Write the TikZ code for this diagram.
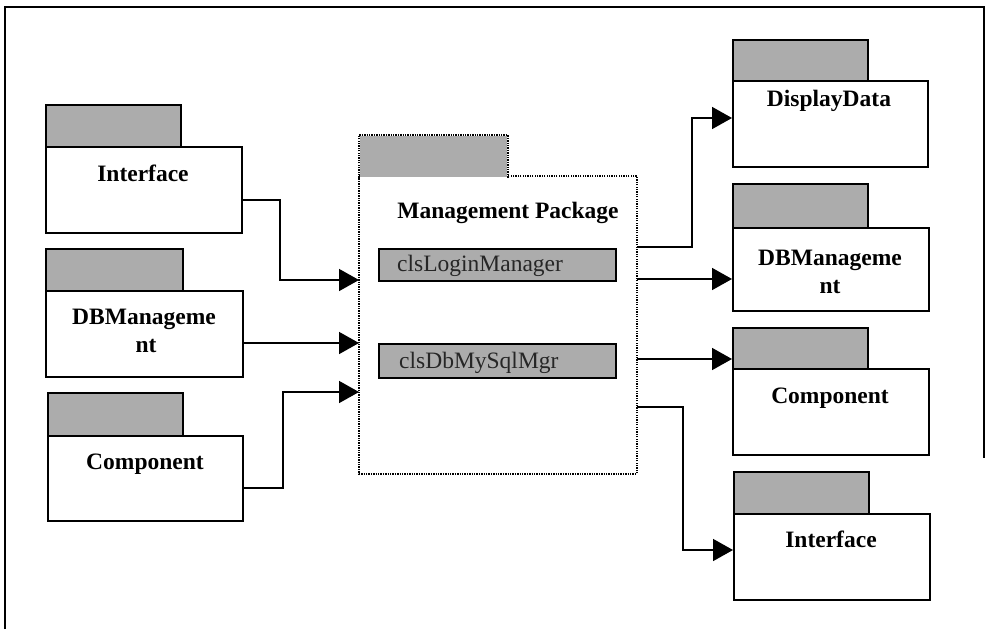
\documentclass[tikz,border=0pt]{standalone}
\usepackage{fontspec}
\setmainfont{Liberation Serif}
\usetikzlibrary{arrows.meta}
\definecolor{tabgray}{RGB}{172,172,172}
\begin{document}
\begin{tikzpicture}[x=1pt,y=-1pt,
  box/.style={draw, line width=1.8pt, fill=white, anchor=north west, inner sep=0pt},
  tab/.style={box, fill=tabgray},
  dots/.style={line width=1.4pt, dash pattern=on 1.3pt off 1.1pt},
  pname/.style={font=\fontsize{23.5}{28}\selectfont\bfseries, anchor=base, inner sep=0pt},
  cname/.style={font=\fontsize{23.5}{28}\selectfont, text=black!85, anchor=base west, inner sep=0pt},
  link/.style={line width=1.6pt, -{Triangle[length=20pt,width=22pt]}},
]
\useasboundingbox (0,0) rectangle (987,629);
% outer frame
\draw[line width=2pt] (5,629) -- (5,7) -- (984,7) -- (984,458);

% packages on the left
\node[box, minimum width=196pt, minimum height=86pt] (lb1) at (45,146) {};
\node[tab, minimum width=135pt, minimum height=42pt] (lt1) at (45,104) {};
\node[pname] (ln1) at (143,181) {Interface};

\node[box, minimum width=197pt, minimum height=86pt] (lb2) at (45,290) {};
\node[tab, minimum width=137pt, minimum height=42pt] (lt2) at (45,248) {};
\node[pname] (ln2a) at (144,324) {DBManageme};
\node[pname] (ln2b) at (146,352) {nt};

\node[box, minimum width=195pt, minimum height=85pt] (lb3) at (47,435) {};
\node[tab, minimum width=135pt, minimum height=43pt] (lt3) at (47,392) {};
\node[pname] (ln3) at (145,469) {Component};

% central package
\node[box, draw=none, minimum width=276pt, minimum height=296pt] (cb) at (359,176) {};
\draw[dots] (cb.north west) rectangle (cb.south east);
\node[box, draw=none, fill=tabgray, minimum width=147pt, minimum height=41pt] (ct) at (359,135) {};
\draw[dots] (ct.south west) -- (ct.north west) -- (ct.north east) -- (ct.south east);
\node[pname] (cn) at (508,218) {Management Package};

\node[tab, minimum width=237pt, minimum height=32pt] (c1) at (378,248) {};
\node[cname] (c1t) at (397,271) {clsLoginManager};
\node[tab, minimum width=237pt, minimum height=34pt] (c2) at (378,343) {};
\node[cname] (c2t) at (399,368) {clsDbMySqlMgr};

% packages on the right
\node[box, minimum width=195pt, minimum height=86pt] (rb1) at (732,80) {};
\node[tab, minimum width=135pt, minimum height=41pt] (rt1) at (732,39) {};
\node[pname] (rn1) at (829,106) {DisplayData};

\node[box, minimum width=196pt, minimum height=83pt] (rb2) at (732,227) {};
\node[tab, minimum width=135pt, minimum height=44pt] (rt2) at (732,183) {};
\node[pname] (rn2a) at (830,265) {DBManageme};
\node[pname] (rn2b) at (830,293) {nt};

\node[box, minimum width=196pt, minimum height=86pt] (rb3) at (732,368) {};
\node[tab, minimum width=135pt, minimum height=41pt] (rt3) at (732,327) {};
\node[pname] (rn3) at (830,403) {Component};

\node[box, minimum width=196pt, minimum height=86pt] (rb4) at (733,513) {};
\node[tab, minimum width=135pt, minimum height=42pt] (rt4) at (733,471) {};
\node[pname] (rn4) at (831,547) {Interface};

% dependencies into the central package
\draw[link] (lb1.east |- 0,200) -- (280,200) |- (cb.west |- 0,280);
\draw[link] (lb2.east |- 0,343) -- (cb.west |- 0,343);
\draw[link] (lb3.east |- 0,488) -- (283,488) |- (cb.west |- 0,392);

% dependencies out of the central package
\draw[link] (cb.east |- 0,247) -- (692,247) |- (rb1.west |- 0,118);
\draw[link] (cb.east |- 0,279) -- (rb2.west |- 0,279);
\draw[link] (cb.east |- 0,359) -- (rt3.west |- 0,359);
\draw[link] (cb.east |- 0,407) -- (683,407) |- (rb4.west |- 0,550);
\end{tikzpicture}
\end{document}
